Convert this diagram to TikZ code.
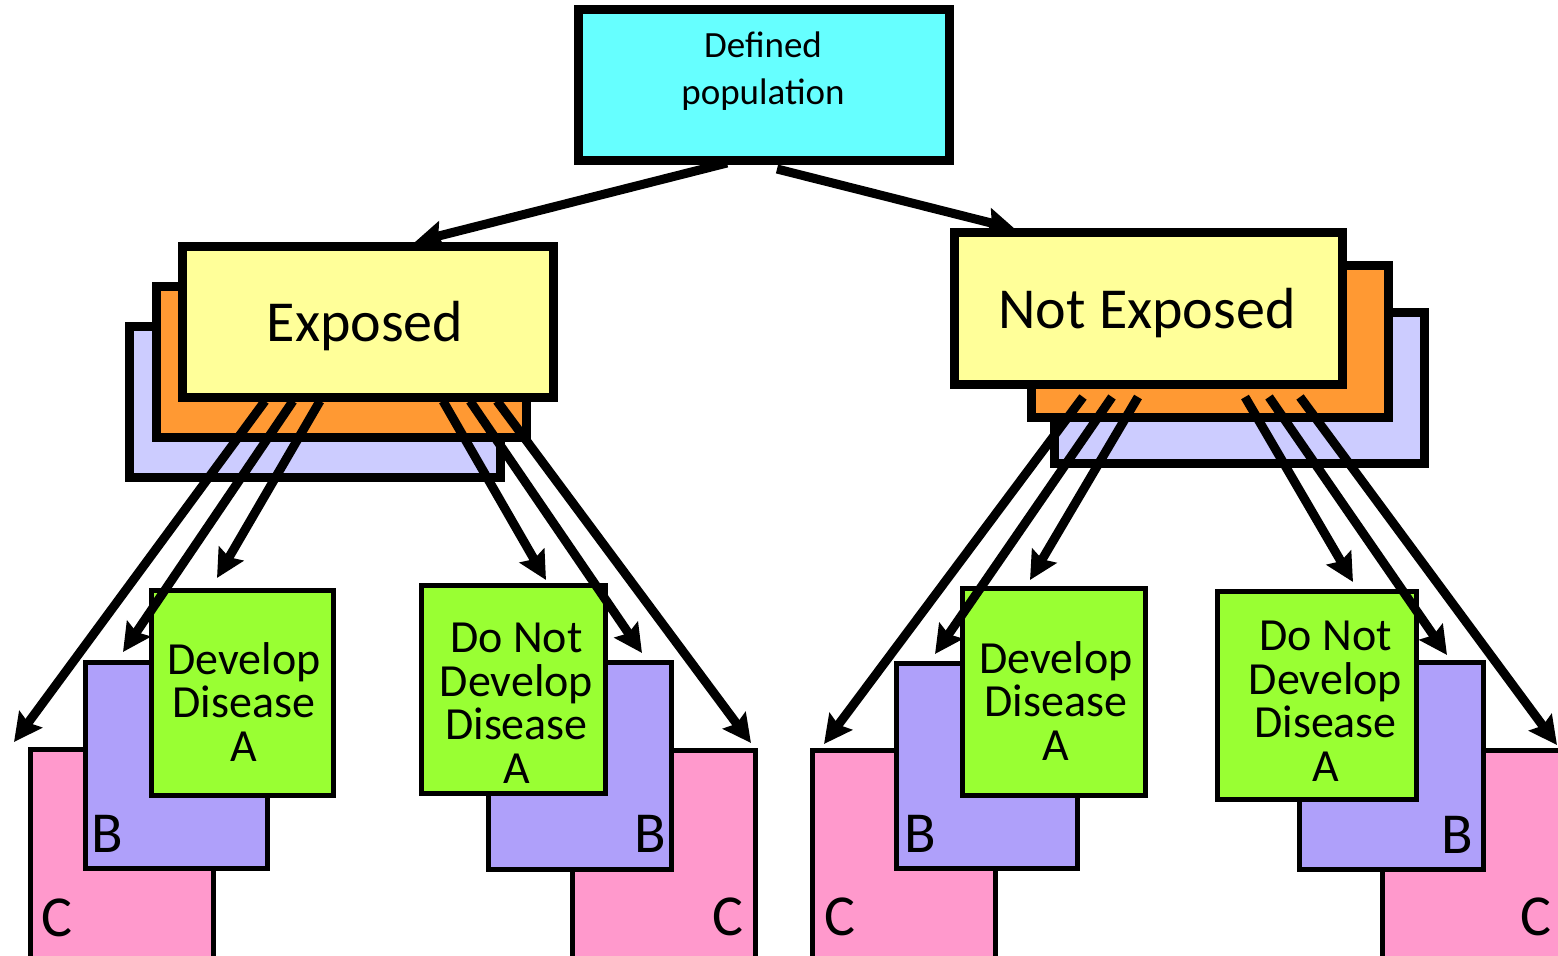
\documentclass[tikz,border=0pt]{standalone}
\usepackage{fontspec}
\setmainfont{Carlito}
\usetikzlibrary{arrows.meta,calc}

\definecolor{popcyan}{HTML}{66FFFF}
\definecolor{grpyellow}{HTML}{FFFF99}
\definecolor{grporange}{HTML}{FF9933}
\definecolor{grplilac}{HTML}{CCCCFF}
\definecolor{outgreen}{HTML}{99FF33}
\definecolor{outviolet}{HTML}{AFA0FA}
\definecolor{outpink}{HTML}{FF99CC}

\tikzset{
  sz/.style 2 args={minimum width=#1*0.5pt, minimum height=#2*0.5pt},
  groupbox/.style={draw=black, line width=4.5pt, inner sep=0pt, outer sep=0pt},
  outbox/.style={draw=black, line width=2.5pt, inner sep=0pt, outer sep=0pt},
  poptext/.style={font=\fontsize{18.5}{23.5}\selectfont, align=center, inner sep=0pt, anchor=north},
  grouptext/.style={font=\fontsize{29}{32}\selectfont, inner sep=0pt, anchor=base},
  outtext/.style={font=\fontsize{23}{21.7}\selectfont, align=center, inner sep=0pt, anchor=north},
  lettertext/.style={font=\fontsize{29}{32}\selectfont, inner sep=0pt},
  arr/.style={line width=4.5pt, -{Stealth[length=14pt,width=14pt,inset=2pt]}},
}

\begin{document}
\lineskiplimit=-50pt
\begin{tikzpicture}[x=0.5pt,y=-0.5pt]
\useasboundingbox (0,0) rectangle (1558,956);

% top box
\node[groupbox, fill=popcyan, sz={371}{151}] (pop) at (763.5,85.5) {};
\node[poptext] (poplabel) at (763,31.5) {Defined\\population};

% exposed group (three stacked sheets)
\node[groupbox, fill=grplilac,  sz={371}{151}] (eL) at (314.5,402.5) {};
\node[groupbox, fill=grporange, sz={370}{151}] (eO) at (341,362.5) {};
\node[groupbox, fill=grpyellow, sz={371}{151}] (eY) at (367.5,322.5) {};
\node[grouptext] (eLabel) at (365,342) {Exposed};

% not exposed group
\node[groupbox, fill=grplilac,  sz={370}{151}] (nL) at (1239,388.5) {};
\node[groupbox, fill=grporange, sz={357}{152}] (nO) at (1209.5,342) {};
\node[groupbox, fill=grpyellow, sz={388}{152}] (nY) at (1148,309) {};
\node[grouptext] (nLabel) at (1147,328.5) {Not Exposed};

% outcome stacks: exposed, develop
\node[outbox, fill=outpink,   sz={183}{211}] (C1) at (121.5,854.5) {};
\node[outbox, fill=outviolet, sz={182}{206}] (B1) at (176,765) {};
\node[outbox, fill=outgreen,  sz={182}{204}] (A1) at (242,693) {};
\node[outtext] (A1label) at (244,642) {Develop\\Disease\\A};
\node[lettertext, anchor=base west] (B1label) at (91,852) {B};
\node[lettertext, anchor=base west] (C1label) at (41.5,936) {C};

% outcome stacks: exposed, do not develop
\node[outbox, fill=outpink,   sz={183}{210}] (C2) at (663.5,855) {};
\node[outbox, fill=outviolet, sz={183}{207}] (B2) at (579.5,765.5) {};
\node[outbox, fill=outgreen,  sz={184}{207}] (A2) at (513,689.5) {};
\node[outtext] (A2label) at (516.5,623) {Do Not\\Develop\\Disease\\A};
\node[lettertext, anchor=base east] (B2label) at (666,852) {B};
\node[lettertext, anchor=base east] (C2label) at (744,935) {C};

% outcome stacks: not exposed, develop
\node[outbox, fill=outpink,   sz={183}{210}] (C3) at (903.5,855) {};
\node[outbox, fill=outviolet, sz={181}{205}] (B3) at (986.5,765.5) {};
\node[outbox, fill=outgreen,  sz={183}{206}] (A3) at (1053.5,692) {};
\node[outtext] (A3label) at (1056,641) {Develop\\Disease\\A};
\node[lettertext, anchor=base west] (B3label) at (904.5,852) {B};
\node[lettertext, anchor=base west] (C3label) at (824.5,935) {C};

% outcome stacks: not exposed, do not develop
\node[outbox, fill=outpink,   sz={183}{210}] (C4) at (1473.5,855) {};
\node[outbox, fill=outviolet, sz={184}{207}] (B4) at (1391,765.5) {};
\node[outbox, fill=outgreen,  sz={199}{207}] (A4) at (1316.5,695.5) {};
\node[outtext] (A4label) at (1325.5,621) {Do Not\\Develop\\Disease\\A};
\node[lettertext, anchor=base east] (B4label) at (1473,853) {B};
\node[lettertext, anchor=base east] (C4label) at (1552,935) {C};

% arrow end points
\coordinate (tE)  at ($(eY.north)+(47.5,-5)$);
\coordinate (tN)  at ($(nY.north west)+(61,-4)$);
\coordinate (tC1) at ($(C1.north west)+(-16,-7)$);
\coordinate (tB1) at ($(B1.north west)+(38,-10)$);
\coordinate (tA1) at ($(A1.north west)+(66,-13)$);
\coordinate (tA2) at ($(A2.north east)+(-59,-6)$);
\coordinate (tB2) at ($(B2.north east)+(-29,-9)$);
\coordinate (tC2) at ($(C2.north east)+(-4,-7)$);
\coordinate (tC3) at ($(C3.north west)+(12,-6)$);
\coordinate (tB3) at ($(B3.north west)+(39,-9)$);
\coordinate (tA3) at ($(A3.north west)+(68,-9)$);
\coordinate (tA4) at ($(A4.north east)+(-63,-10)$);
\coordinate (tB4) at ($(B4.north east)+(-36,-7)$);
\coordinate (tC4) at ($(C4.north west)+(175,-5)$);

% population splits
\draw[arr] ($(pop.south)+(-36.5,2)$) -- (tE);
\draw[arr] ($(pop.south)+(13.5,8)$) -- (tN);

% exposed branches
\draw[arr] ($(eY.south west)+(83,3)$)  -- (tC1);
\draw[arr] ($(eY.south west)+(111,3)$) -- (tB1);
\draw[arr] ($(eY.south west)+(138,3)$) -- (tA1);
\draw[arr] ($(eY.south west)+(261,3)$) -- (tA2);
\draw[arr] ($(eY.south west)+(288,3)$) -- (tB2);
\draw[arr] ($(eY.south west)+(315,3)$) -- (tC2);

% not exposed branches
\draw[arr] ($(nY.south west)+(129,12)$) -- (tC3);
\draw[arr] ($(nY.south west)+(158,12)$) -- (tB3);
\draw[arr] ($(nY.south west)+(184,12)$) -- (tA3);
\draw[arr] ($(nY.south west)+(291,12)$) -- (tA4);
\draw[arr] ($(nY.south west)+(315,12)$) -- (tB4);
\draw[arr] ($(nY.south west)+(346,12)$) -- (tC4);
\end{tikzpicture}
\end{document}
